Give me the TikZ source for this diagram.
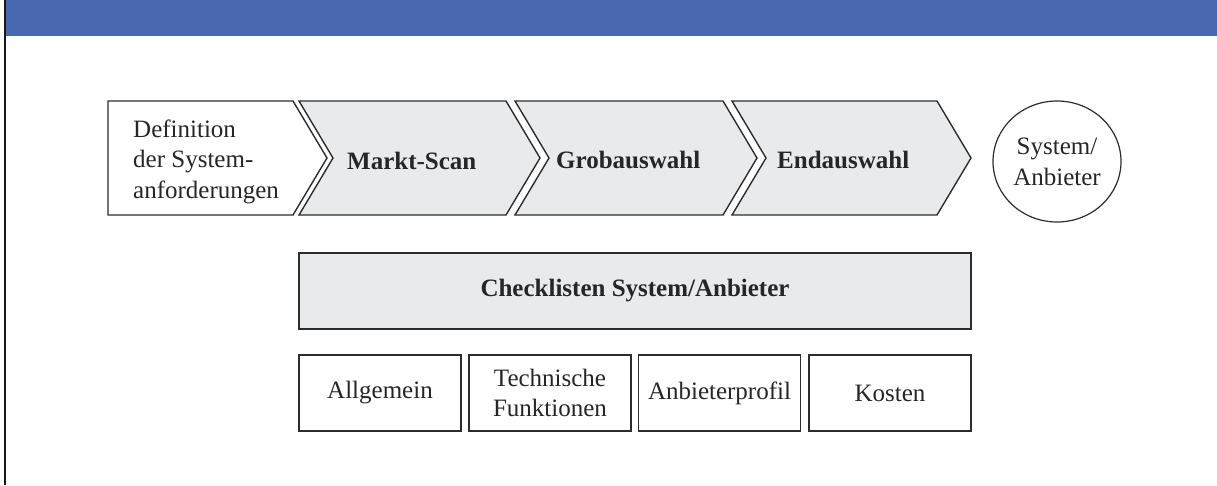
\documentclass[tikz,border=0pt]{standalone}
\usepackage{fontspec}
\setmainfont{Liberation Serif}
\usetikzlibrary{shapes.geometric}
\definecolor{hdrblue}{RGB}{74,104,176}
\definecolor{boxgray}{RGB}{233,234,236}
\definecolor{edge}{RGB}{45,45,45}
\tikzset{
  shp/.style={draw=edge, line width=1.4pt, line join=miter},
  lbl/.style={inner sep=0pt, font=\fontsize{25}{30.5}\selectfont, text=black!85},
  blbl/.style={lbl, font=\fontsize{25}{30.5}\selectfont\bfseries},
  catbox/.style={draw=edge, line width=1.4pt, fill=white, minimum width=162pt, minimum height=76pt, inner sep=0pt, align=center, font=\fontsize{25}{30.5}\selectfont, text=black!85},
}
\begin{document}
\begin{tikzpicture}[x=1pt,y=-1pt]
\useasboundingbox (0,0) rectangle (1217,485);
\fill[white] (0,0) rectangle (1217,485);
% header band and left border
\fill[hdrblue] (6,0) rectangle (1217,36);
\draw[black!90, line width=2.6pt] (5,0) -- (5,485);
% chevrons
\draw[shp, fill=white] (108,101) -- (293,101) -- (327,158) -- (293,215) -- (108,215) -- cycle;
\draw[shp, fill=boxgray] (299,101) -- (506,101) -- (540,158) -- (506,215) -- (299,215) -- (333,158) -- cycle;
\draw[shp, fill=boxgray] (515,101) -- (723,101) -- (757,158) -- (723,215) -- (515,215) -- (549,158) -- cycle;
\draw[shp, fill=boxgray] (732,101) -- (937,101) -- (971,158) -- (937,215) -- (732,215) -- (766,158) -- cycle;
\node[lbl, anchor=west, align=left] (def) at (133,161.7) {Definition\\der System-\\anforderungen};
\node[blbl, anchor=base west] (scan) at (347,169) {Markt-Scan};
\node[blbl, anchor=base west] (grob) at (556,168) {Grobauswahl};
\node[blbl, anchor=base west] (end) at (777,168) {Endauswahl};
% result circle
\node[ellipse, draw=edge, line width=1.2pt, minimum width=128pt, minimum height=121pt, inner sep=0pt, align=center, font=\fontsize{25}{31}\selectfont, text=black!85] (res) at (1057,161.5) {System/\\Anbieter};
% checklists
\node[draw=edge, line width=1.4pt, fill=boxgray, minimum width=672pt, minimum height=76pt, inner sep=0pt, font=\fontsize{25}{30.5}\selectfont\bfseries, text=black!85] (check) at (635,291) {Checklisten System/Anbieter};
\node[catbox] (allg) at (380,393) {Allgemein};
\node[catbox] (tech) at (550,393) {Technische\\Funktionen};
\node[catbox] (prof) at (719.5,393) {Anbieterprofil};
\node[catbox] (kost) at (890,393) {Kosten};
\end{tikzpicture}
\end{document}
